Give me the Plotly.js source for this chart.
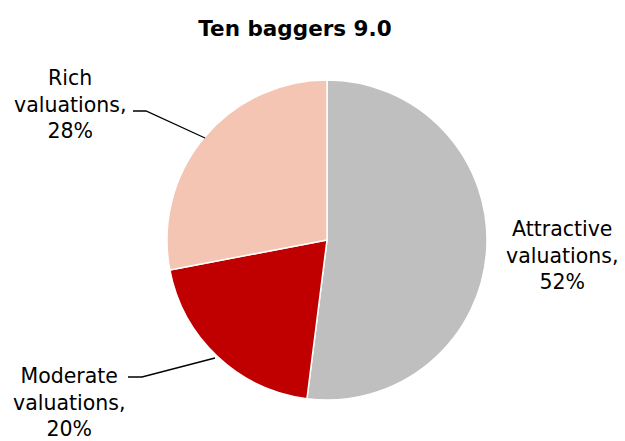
<!DOCTYPE html>
<html>
<head>
<meta charset="utf-8">
<script src="https://cdn.plot.ly/plotly-3.0.1.min.js"></script>
<style>html,body{margin:0;padding:0;background:#fff;}#chart{width:625px;height:441px;}</style>
</head>
<body>
<div id="chart"></div>
<script>
const categories = ["Attractive valuations", "Moderate valuations", "Rich valuations"];
const values = [52, 20, 28];
const colors = ["#BFBFBF", "#C00000", "#F5C5B3"];
const titleText = "Ten baggers 9.0";

const W = 625, H = 441;
const px = x => x / W;
const py = y => 1 - y / H;

function labelText(name, v) {
  const parts = name.split(" ");
  return parts[0] + "<br>" + parts.slice(1).join(" ") + ",<br>" + v + "%";
}

const trace = {
  type: "pie",
  values: values,
  labels: categories,
  marker: { colors: colors, line: { color: "#FFFFFF", width: 1.5 } },
  sort: false,
  direction: "clockwise",
  rotation: 0,
  textinfo: "none",
  hoverinfo: "label+percent",
  domain: { x: [px(167), px(487)], y: [py(400), py(80)] },
  showlegend: false
};

const labelPos = [
  { x: 562, y: 255 },
  { x: 69, y: 402 },
  { x: 70, y: 104 }
];

const FONT = "'DejaVu Sans', Verdana, sans-serif";

const annotations = categories.map((c, i) => ({
  text: labelText(c, values[i]),
  x: px(labelPos[i].x), y: py(labelPos[i].y),
  xref: "paper", yref: "paper",
  xanchor: "center", yanchor: "middle",
  showarrow: false,
  align: "center",
  font: { family: FONT, size: 20.5, color: "#000000" }
}));

const shapes = [
  { type: "path", xref: "paper", yref: "paper",
    path: `M ${px(133)} ${py(111)} L ${px(146)} ${py(111)} L ${px(205)} ${py(138)}`,
    line: { color: "#000000", width: 1.3 } },
  { type: "path", xref: "paper", yref: "paper",
    path: `M ${px(128)} ${py(377)} L ${px(142)} ${py(377)} L ${px(215)} ${py(358)}`,
    line: { color: "#000000", width: 1.3 } }
];

const layout = {
  width: W, height: H,
  margin: { l: 0, r: 0, t: 0, b: 0 },
  paper_bgcolor: "#FFFFFF",
  plot_bgcolor: "#FFFFFF",
  title: {
    text: "<b>" + titleText + "</b>",
    x: px(295), xanchor: "center",
    y: py(28), yref: "container", yanchor: "middle",
    font: { family: FONT, size: 21.5, color: "#000000" }
  },
  annotations: annotations,
  shapes: shapes
};

Plotly.newPlot("chart", [trace], layout, { displayModeBar: false, staticPlot: true });
</script>
</body>
</html>
